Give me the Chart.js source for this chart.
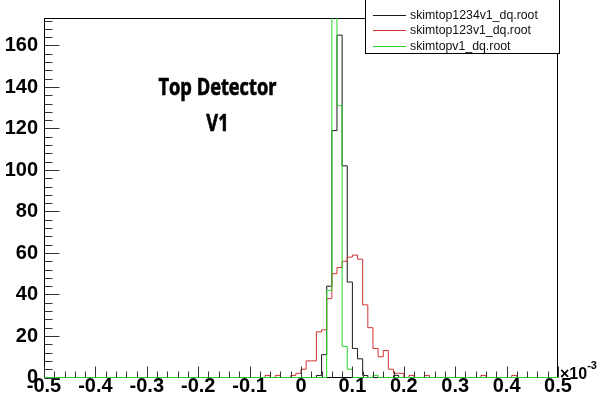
<!DOCTYPE html>
<html>
<head>
<meta charset="utf-8">
<script src="https://cdn.jsdelivr.net/npm/chart.js@4/dist/chart.umd.min.js"></script>
<style>
html,body{margin:0;padding:0;background:#fff;overflow:hidden}
#wrap{position:relative;width:601px;height:399px}
canvas{display:block}
</style>
</head>
<body>
<div id="wrap"><canvas id="c" width="601" height="399"></canvas></div>
<script>
// ---- data (x in units of 1e-3) ----
const xMin = -0.5, xMax = 0.5, binWidth = 0.01;
const yMax = 173.25;
const xTickValues = [-0.5, -0.4, -0.3, -0.2, -0.1, 0, 0.1, 0.2, 0.3, 0.4, 0.5];
const xTickLabels = ['-0.5', '-0.4', '-0.3', '-0.2', '-0.1', '0', '0.1', '0.2', '0.3', '0.4', '0.5'];
const yTickValues = [0, 20, 40, 60, 80, 100, 120, 140, 160];
const yTickLabels = ['0', '20', '40', '60', '80', '100', '120', '140', '160'];
const seriesLabels = ['skimtop1234v1_dq.root', 'skimtop123v1_dq.root', 'skimtopv1_dq.root'];
const titleLines = ['Top Detector', 'V1'];
const exponentText = ['\u00d710', '-3'];

// 100 bins each, from -0.5 to 0.5
const counts1234 = [
  0,0,0,0,0,0,0,0,0,0,
  0,0,0,0,0,0,0,0,0,0,
  0,0,0,0,0,0,0,0,0,0,
  0,0,0,0,0,0,0,0,0,0,
  0,0,0,0,0,0,0,0,0,0,
  0,0,0,1,11,44,119,165,102,46,
  14,9,1,0,0,0,0,0,1,0,
  0,0,0,0,0,0,0,0,0,0,
  0,0,0,0,0,0,0,0,0,0,
  0,0,0,0,0,0,0,0,0,0
];
const counts123 = [
  0,0,0,0,0,0,0,0,0,0,
  0,0,0,0,0,0,0,0,0,0,
  0,0,0,0,0,0,0,0,0,0,
  0,0,0,0,0,0,0,0,0,0,
  0,0,0,1,0,1,0,0,1,2,
  4,8,8,22,23,38,50,53,56,58,
  59,57,35,24,14,10,13,4,2,2,
  0,1,0,0,1,0,0,0,0,0,
  0,0,0,0,0,1,0,0,0,0,
  0,1,0,0,0,0,0,0,0,0
];
const countsV1 = [
  0,0,0,0,0,0,0,0,0,0,
  0,0,0,0,0,0,0,0,0,0,
  0,0,0,0,0,0,0,0,0,0,
  0,0,0,0,0,0,0,0,0,0,
  0,0,0,0,0,0,0,0,0,0,
  0,0,0,0,0,42,320,131,15,4,
  0,0,0,0,1,0,0,0,0,0,
  0,0,0,0,0,0,0,0,0,0,
  0,0,0,0,0,0,0,0,0,0,
  0,0,0,0,0,0,0,0,0,0
];

// ---- build step outline points (left bin edges + closing edge) ----
function histPoints(counts) {
  const pts = counts.map((c, i) => ({ x: +(xMin + i * binWidth).toFixed(4), y: c }));
  pts.push({ x: xMax, y: 0 });
  return pts;
}

const FONT = '"Liberation Sans", Arial, Helvetica, sans-serif';

function drawCondensed(ctx, text, cx, baseline, s) {
  ctx.save();
  ctx.translate(cx, baseline);
  ctx.scale(s, 1);
  ctx.textAlign = 'center';
  ctx.lineWidth = 0.7;
  ctx.strokeStyle = '#000';
  ctx.lineJoin = 'round';
  ctx.strokeText(text, 0, 0);
  ctx.fillText(text, 0, 0);
  ctx.restore();
}

const rootDecor = {
  id: 'rootDecor',
  beforeDatasetsDraw(chart) {
    const { ctx, chartArea: a } = chart;
    ctx.save();
    ctx.strokeStyle = '#000';
    ctx.lineWidth = 1;
    const L = Math.round(a.left) + 0.5, R = Math.round(a.right) - 0.5;
    const T = Math.round(a.top) + 0.5, B = Math.round(a.bottom) - 0.5;
    ctx.strokeRect(L, T, R - L, B - T);
    ctx.restore();
  },
  afterDatasetsDraw(chart) {
    const { ctx, chartArea: a, scales } = chart;
    const xs = scales.x, ys = scales.y;
    ctx.save();
    // axis tick marks (inward, ROOT style)
    ctx.strokeStyle = '#333';
    ctx.lineWidth = 1;
    ctx.beginPath();
    const B = Math.round(a.bottom) - 0.5;
    for (let j = 0; j <= 50; j++) {
      const v = xMin + j * 0.02;
      const px = Math.round(xs.getPixelForValue(v)) + 0.5;
      const len = (j % 5 === 0) ? 11 : 6;
      ctx.moveTo(px, B); ctx.lineTo(px, B - len);
    }
    const L = Math.round(a.left) + 0.5;
    for (let j = 0; j * 4 <= yMax; j++) {
      const py = Math.round(ys.getPixelForValue(j * 4)) + 0.5;
      const len = (j % 5 === 0) ? 15 : 8;
      ctx.moveTo(L, py); ctx.lineTo(L + len, py);
    }
    ctx.stroke();

    // legend box
    const bx0 = 365.5, bx1 = 559.5, by0 = -0.5, by1 = 53.5;
    ctx.fillStyle = '#ffffff';
    ctx.fillRect(bx0, by0, bx1 - bx0, by1 - by0);
    ctx.strokeStyle = '#000';
    ctx.strokeRect(bx0, by0, bx1 - bx0, by1 - by0);
    const rowY = [15.5, 30.5, 46.5];
    ctx.font = '12.3px ' + FONT;
    ctx.textBaseline = 'middle';
    ctx.textAlign = 'left';
    chart.data.datasets.forEach((ds, i) => {
      ctx.strokeStyle = ds.borderColor;
      ctx.beginPath();
      ctx.moveTo(373, rowY[i]); ctx.lineTo(406, rowY[i]);
      ctx.stroke();
      ctx.fillStyle = '#111';
      ctx.fillText(ds.label, 410, rowY[i] + 0.5);
    });

    // title text (condensed bold)
    ctx.fillStyle = '#000';
    ctx.textBaseline = 'alphabetic';
    ctx.font = 'bold 24px "Open Sans", "Liberation Sans", sans-serif';
    const sc = 118 / ctx.measureText(titleLines[0]).width;
    drawCondensed(ctx, titleLines[0], 217.5, 95, sc);
    drawCondensed(ctx, titleLines[1], 217.5, 131, sc);

    // exponent
    ctx.textAlign = 'left';
    ctx.font = 'bold 16px ' + FONT;
    ctx.fillText(exponentText[0], 560, 379);
    const w = ctx.measureText(exponentText[0]).width;
    ctx.font = 'bold 11px ' + FONT;
    ctx.fillText(exponentText[1], 560 + w, 369);
    ctx.restore();
  }
};

const mkDs = (label, counts, color, order) => ({
  label, data: histPoints(counts), borderColor: color, backgroundColor: color,
  borderWidth: 1, pointRadius: 0, stepped: true, fill: false, order,
  clip: { left: 1, right: 1, top: 0, bottom: 1 }
});

new Chart(document.getElementById('c'), {
  type: 'line',
  data: {
    datasets: [
      mkDs(seriesLabels[0], counts1234, '#1a1a1a', 3),
      mkDs(seriesLabels[1], counts123, '#d03434', 2),
      mkDs(seriesLabels[2], countsV1, '#2bd42b', 1)
    ]
  },
  options: {
    responsive: false,
    animation: false,
    devicePixelRatio: 1,
    layout: { padding: { top: 8, right: 43, left: 0, bottom: 0 } },
    plugins: { legend: { display: false }, tooltip: { enabled: false } },
    scales: {
      x: {
        type: 'linear', min: xMin, max: xMax,
        afterBuildTicks: s => { s.ticks = xTickValues.map(v => ({ value: v })); },
        afterFit: s => { s.height = 21.5; },
        grid: { display: false, drawTicks: false },
        border: { display: false },
        ticks: {
          autoSkip: false, maxRotation: 0, minRotation: 0, padding: -1, color: '#000',
          font: { family: FONT, size: 20, weight: 'bold', lineHeight: 1 },
          callback: (v, i) => xTickLabels[i]
        }
      },
      y: {
        type: 'linear', min: 0, max: yMax,
        afterBuildTicks: s => { s.ticks = yTickValues.map(v => ({ value: v })); },
        afterFit: s => { s.width = 44; },
        grid: { display: false, drawTicks: false },
        border: { display: false },
        ticks: {
          autoSkip: false, padding: 6, color: '#000',
          font: { family: FONT, size: 20, weight: 'bold' },
          callback: (v, i) => yTickLabels[i]
        }
      }
    }
  },
  plugins: [rootDecor]
});
</script>
</body>
</html>
